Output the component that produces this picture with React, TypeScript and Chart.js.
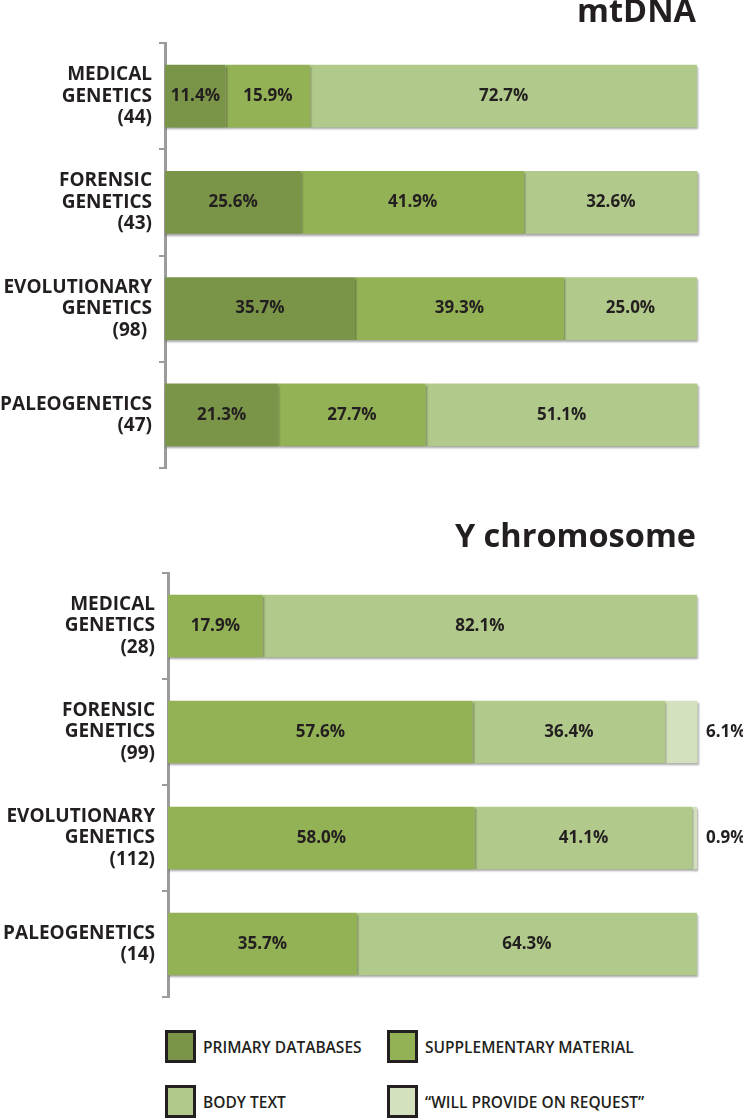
import React, { useEffect, useRef } from 'react';
import { Chart, registerables } from 'chart.js';

Chart.register(...registerables);

const seriesNames = ['PRIMARY DATABASES', 'SUPPLEMENTARY MATERIAL', 'BODY TEXT', '\u201CWILL PROVIDE ON REQUEST\u201D'];
const seriesColors = ['#7a9448', '#93b155', '#b1c98a', '#d3e1be'];

const mtCategories = [
  ['MEDICAL', 'GENETICS', '(44)'],
  ['FORENSIC', 'GENETICS', '(43)'],
  ['EVOLUTIONARY', 'GENETICS', '(98) '],
  ['PALEOGENETICS', '(47)'],
];
const mtPrimary = [11.4, 25.6, 35.7, 21.3];
const mtSupplementary = [15.9, 41.9, 39.3, 27.7];
const mtBody = [72.7, 32.6, 25.0, 51.1];
const mtRequest = [0, 0, 0, 0];

const yCategories = [
  ['MEDICAL', 'GENETICS', '(28)'],
  ['FORENSIC', 'GENETICS', '(99)'],
  ['EVOLUTIONARY', 'GENETICS', '(112)'],
  ['PALEOGENETICS', '(14)'],
];
const yPrimary = [0, 0, 0, 0];
const ySupplementary = [17.9, 57.6, 58.0, 35.7];
const yBody = [82.1, 36.4, 41.1, 64.3];
const yRequest = [0, 6.1, 0.9, 0];

const TEXT = '#231f20';
const AXIS = '#9c9c9c';
const FONT = '"Open Sans", "DejaVu Sans", sans-serif';

const shadowPlugin = {
  id: 'barShadow',
  beforeDatasetsDraw(chart: any) {
    const ctx = chart.ctx;
    ctx.save();
    ctx.shadowColor = 'rgba(0,0,0,0.35)';
    ctx.shadowOffsetX = 1;
    ctx.shadowOffsetY = 2;
    ctx.shadowBlur = 2;
  },
  afterDatasetsDraw(chart: any) {
    chart.ctx.restore();
  },
};

const valueLabelPlugin = {
  id: 'valueLabels',
  afterDatasetsDraw(chart: any) {
    const ctx = chart.ctx;
    ctx.save();
    ctx.font = `bold 17px ${FONT}`;
    ctx.fillStyle = TEXT;
    ctx.textBaseline = 'middle';
    chart.data.datasets.forEach((ds: any, di: number) => {
      const meta = chart.getDatasetMeta(di);
      meta.data.forEach((el: any, i: number) => {
        const v = ds.data[i];
        if (!v) return;
        const { x, base, y } = el.getProps(['x', 'base', 'y'], true);
        const txt = v.toFixed(1) + '%';
        if (di === 3) {
          ctx.textAlign = 'left';
          ctx.fillText(txt, chart.chartArea.right + 9, y);
        } else {
          ctx.textAlign = 'center';
          ctx.fillText(txt, (x + base) / 2, y);
        }
      });
    });
    ctx.restore();
  },
};

const cornerTitlePlugin = {
  id: 'cornerTitle',
  afterDraw(chart: any, _args: any, opts: any) {
    const ctx = chart.ctx;
    ctx.save();
    ctx.font = `bold 32.5px ${FONT}`;
    ctx.fillStyle = TEXT;
    ctx.textAlign = 'right';
    ctx.textBaseline = 'alphabetic';
    ctx.fillText(opts.text, chart.chartArea.right - 1, chart.chartArea.top - opts.offset);
    ctx.restore();
  },
};

type Props = {
  title: string;
  titleOffset: number;
  categories: string[][];
  series: number[][];
  top: number;
  height: number;
  padTop: number;
  padBottom: number;
  axisWidth: number;
};

function StackChart(p: Props) {
  const ref = useRef<HTMLCanvasElement>(null);
  useEffect(() => {
    const chart = new Chart(ref.current as HTMLCanvasElement, {
      type: 'bar',
      data: {
        labels: p.categories as any,
        datasets: p.series.map((d, i) => ({
          label: seriesNames[i],
          data: d,
          backgroundColor: seriesColors[i],
          borderWidth: 0,
          barPercentage: 0.59,
          categoryPercentage: 1,
          clip: false as any,
        })),
      },
      options: {
        indexAxis: 'y',
        responsive: false,
        animation: false,
        devicePixelRatio: 1,
        layout: { padding: { top: p.padTop, bottom: p.padBottom, right: 46, left: 0 } },
        plugins: {
          legend: { display: false },
          tooltip: { enabled: false },
          cornerTitle: { text: p.title, offset: p.titleOffset },
        } as any,
        scales: {
          x: { stacked: true, min: 0, max: 100, display: false },
          y: {
            stacked: true,
            afterFit: (s: any) => {
              s.width = p.axisWidth;
              s.paddingTop = 0;
              s.paddingBottom = 0;
            },
            grid: {
              offset: true,
              drawOnChartArea: false,
              drawTicks: true,
              tickLength: 6,
              color: AXIS,
              lineWidth: 2,
            },
            border: { display: true, color: AXIS, width: 3 },
            ticks: {
              color: TEXT,
              padding: 7,
              font: { family: FONT, size: 19, weight: 'bold', lineHeight: 1.13 },
            },
          },
        },
      },
      plugins: [shadowPlugin, valueLabelPlugin, cornerTitlePlugin],
    });
    return () => chart.destroy();
  }, []);
  return (
    <canvas
      ref={ref}
      width={743}
      height={p.height}
      style={{ position: 'absolute', left: 0, top: p.top, display: 'block', width: 743, height: p.height }}
    />
  );
}

function Legend() {
  const cols = [165, 387];
  const rows = [1030, 1085];
  return (
    <>
      {seriesNames.map((name, i) => (
        <div
          key={name}
          style={{
            position: 'absolute',
            left: cols[i % 2],
            top: rows[Math.floor(i / 2)],
            display: 'flex',
            alignItems: 'center',
            height: 33,
          }}
        >
          <div
            style={{
              width: 31,
              height: 33,
              boxSizing: 'border-box',
              border: `3px solid ${TEXT}`,
              background: seriesColors[i],
            }}
          />
          <span
            style={{
              marginLeft: 7,
              fontFamily: FONT,
              fontWeight: 600,
              fontSize: 15.5,
              color: TEXT,
              whiteSpace: 'nowrap',
            }}
          >
            {name}
          </span>
        </div>
      ))}
    </>
  );
}

export default function App() {
  return (
    <div style={{ position: 'absolute', left: 0, top: 0, width: 743, height: 1119, background: '#fff', overflow: 'hidden' }}>
      <StackChart
        title="mtDNA"
        titleOffset={21}
        categories={mtCategories}
        series={[mtPrimary, mtSupplementary, mtBody, mtRequest]}
        top={0}
        height={480}
        padTop={43}
        padBottom={12}
        axisWidth={165}
      />
      <StackChart
        title="Y chromosome"
        titleOffset={26}
        categories={yCategories}
        series={[yPrimary, ySupplementary, yBody, yRequest]}
        top={500}
        height={510}
        padTop={73}
        padBottom={13}
        axisWidth={168}
      />
      <Legend />
    </div>
  );
}
